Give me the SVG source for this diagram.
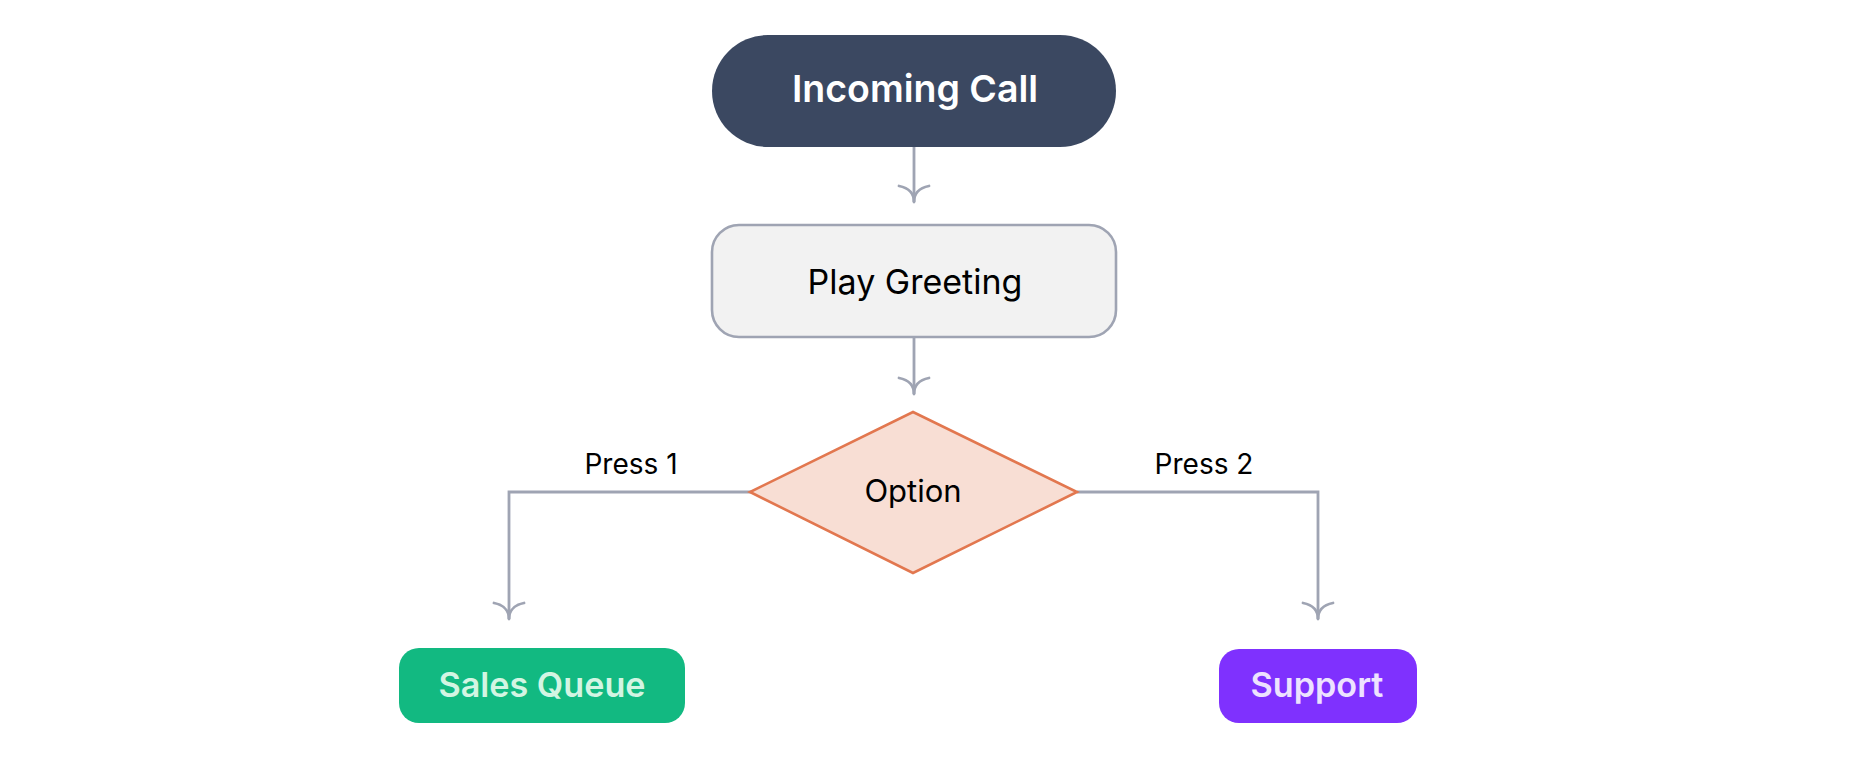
<svg xmlns="http://www.w3.org/2000/svg" width="1864" height="758" viewBox="0 0 1864 758">
  <defs>
    <marker id="arrow" viewBox="-20 -20 40 40" markerWidth="40" markerHeight="40" refX="0" refY="0" orient="auto" markerUnits="userSpaceOnUse" overflow="visible">
      <path d="M-16,-15 Q-13,0 0,0 Q-13,0 -16,15" fill="none" stroke="#9fa4b3" stroke-width="2.8" stroke-linecap="round" stroke-linejoin="round"/>
    </marker>
    <style>
      .edge { fill: none; stroke: #9fa4b3; stroke-width: 2.8; marker-end: url(#arrow); }
      .lbl { font-family: Inter, "Noto Sans", sans-serif; fill: #000; text-anchor: middle; }
      .title { font-family: Inter, "Noto Sans", sans-serif; font-weight: 600; text-anchor: middle; }
    </style>
  </defs>
  <rect width="1864" height="758" fill="#ffffff"/>

  <!-- connectors -->
  <g id="edges">
    <path class="edge" d="M914,147 L914,202"/>
    <path class="edge" d="M914,337 L914,394"/>
    <path class="edge" d="M751,492 L509,492 L509,619"/>
    <path class="edge" d="M1077,492 L1318,492 L1318,619"/>
    <text class="lbl" x="631" y="474" font-size="28">Press 1</text>
    <text class="lbl" x="1204" y="474" font-size="28">Press 2</text>
  </g>

  <g id="incoming-call">
    <rect x="712" y="35" width="404" height="112" rx="56" fill="#3b4861"/>
    <text class="title" x="915" y="102" font-size="37.5" fill="#ffffff">Incoming Call</text>
  </g>

  <g id="play-greeting">
    <rect x="712" y="225" width="404" height="112" rx="27" fill="#f2f2f2" stroke="#9fa4b3" stroke-width="2.6"/>
    <text class="lbl" x="915" y="294" font-size="34">Play Greeting</text>
  </g>

  <g id="option">
    <polygon points="913,412 1077,492 913,573 750,492" fill="#f8ded4" stroke="#e2774f" stroke-width="2.6" stroke-linejoin="miter"/>
    <text class="lbl" x="913" y="502" font-size="31">Option</text>
  </g>

  <g id="sales-queue">
    <rect x="399" y="648" width="286" height="75" rx="20" fill="#12b981"/>
    <text class="title" x="542" y="697" font-size="34.2" fill="#d3f5e3">Sales Queue</text>
  </g>

  <g id="support">
    <rect x="1219" y="649" width="198" height="74" rx="20" fill="#7f31fe"/>
    <text class="title" x="1317" y="697" font-size="34.2" fill="#ede2ff">Support</text>
  </g>
</svg>
